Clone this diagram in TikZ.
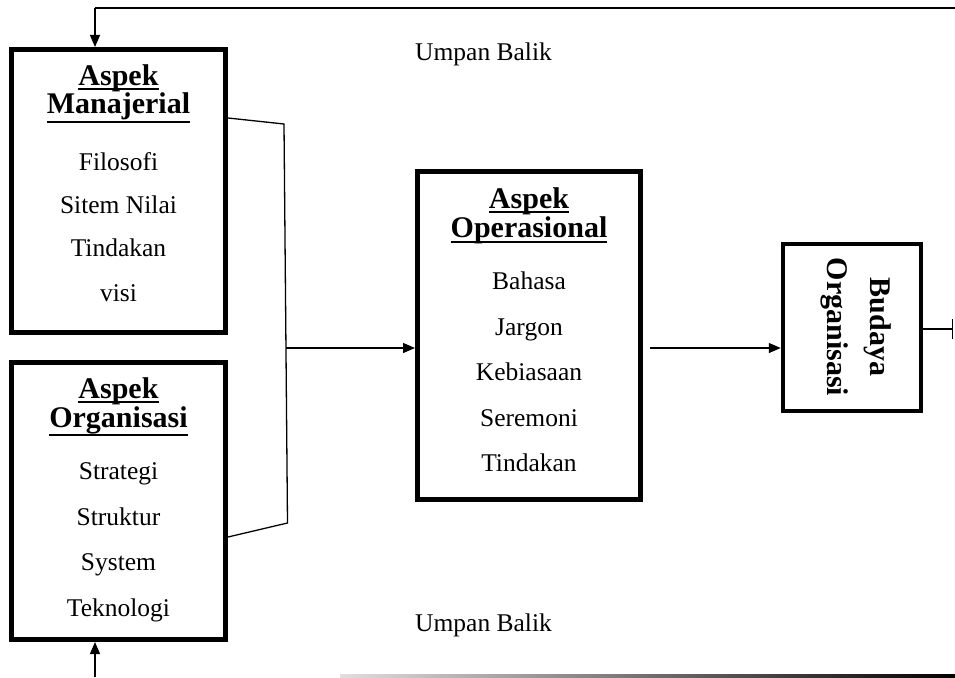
\documentclass[tikz,border=0pt]{standalone}
\usepackage{fontspec}
\setmainfont{Liberation Serif}
\usetikzlibrary{arrows.meta}
\newsavebox\myulbox
\newcommand\myul[2]{\sbox\myulbox{#2}\hbox{\rlap{\vrule width\wd\myulbox height\dimexpr1pt-#1pt\relax depth\dimexpr#1pt+1pt\relax}\usebox\myulbox}}
\tikzset{
  box/.style={draw, line width=5pt, inner sep=0pt, rectangle},
  ttl/.style={anchor=base, font=\bfseries\fontsize{30}{34}\selectfont, inner sep=0pt},
  txt/.style={anchor=base, font=\fontsize{25.5}{30}\selectfont, inner sep=0pt},
  conn/.style={line width=1.3pt},
  arr/.style={conn, -{Triangle[length=12pt,width=10pt]}},
}
\begin{document}
\begin{tikzpicture}[x=1pt,y=-1pt]
\useasboundingbox (0,0) rectangle (955,677);
% boxes
\node[box, minimum width=214pt, minimum height=283pt] (mgr) at (118.5,191) {};
\node[box, minimum width=214pt, minimum height=277pt] (org) at (118.5,501) {};
\node[box, minimum width=223pt, minimum height=328pt] (ops) at (529,335.5) {};
\node[box, line width=4.5pt, minimum width=138pt, minimum height=167pt] (bud) at (852,327.5) {};
% Manajerial texts
\node[ttl] (m1) at (118.5,85) {\myul{3.5}{Aspek}};
\node[ttl] (m2) at (118.5,113) {\myul{8.5}{Manajerial}};
\node[txt] (m3) at (118.5,170.5) {Filosofi};
\node[txt] (m4) at (118.5,213) {Sitem Nilai};
\node[txt] (m5) at (118.5,256.5) {Tindakan};
\node[txt] (m6) at (118.5,301.5) {visi};
% Organisasi texts
\node[ttl] (o1) at (118.5,398.5) {\myul{3.5}{Aspek}};
\node[ttl] (o2) at (118.5,427) {\myul{8}{Organisasi}};
\node[txt] (o3) at (118.5,479) {Strategi};
\node[txt] (o4) at (118.5,525) {Struktur};
\node[txt] (o5) at (118.5,570) {System};
\node[txt] (o6) at (118.5,616.5) {Teknologi};
% Operasional texts
\node[ttl] (p1) at (529,208) {\myul{3.5}{Aspek}};
\node[ttl] (p2) at (529,237) {\myul{5}{Operasional}};
\node[txt] (p3) at (529,289) {Bahasa};
\node[txt] (p4) at (529,335) {Jargon};
\node[txt] (p5) at (529,380) {Kebiasaan};
\node[txt] (p6) at (529,426.5) {Seremoni};
\node[txt] (p7) at (529,471.5) {Tindakan};
% Budaya Organisasi (rotated)
\node[ttl, rotate=-90] (b1) at (870,327) {Budaya};
\node[ttl, rotate=-90] (b2) at (827,327) {Organisasi};
% feedback labels
\node[txt, anchor=base west] (u1) at (415,60) {Umpan Balik};
\node[txt, anchor=base west] (u2) at (415,631) {Umpan Balik};
% coordinates
\coordinate (topR) at (955,8);
\coordinate (topL) at (95,8);
\coordinate (botS) at (95,677);
\coordinate (mE) at (mgr.east |- 0,118);
\coordinate (oE) at (org.east |- 0,537);
\coordinate (brT) at (284,124);
\coordinate (brB) at (287.5,523);
\coordinate (brM) at (286,348);
\coordinate (outE) at (953,329);
\coordinate (opsOut) at (650,348);
% connectors
\draw[conn] (topR) -- (topL);
\draw[arr] (topL) -- (topL |- mgr.north);
\draw[arr] (botS) -- (botS |- org.south);
\draw[conn, line join=miter] (mE) -- (brT) -- (brB) -- (oE);
\draw[arr] (brM) -- (brM -| ops.west);
\draw[arr] (opsOut) -- (opsOut -| bud.west);
\draw[conn, -{Bar[width=20pt,line width=1.3pt]}] (bud.east |- outE) -- (outE);
% bottom feedback line
\shade[left color=gray!25, right color=black] (340,674.5) rectangle (955,677);
\end{tikzpicture}
\end{document}
